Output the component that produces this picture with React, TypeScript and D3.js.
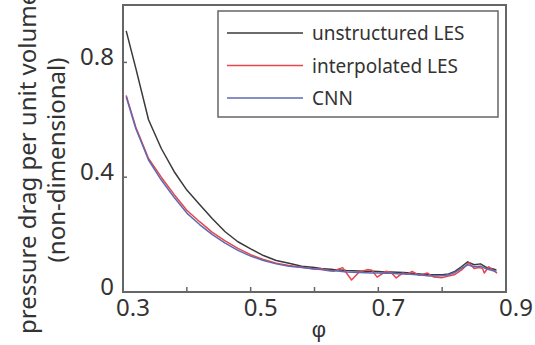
import { useRef, useEffect } from "react";
import * as d3 from "d3";

// phi values shared by the smooth curves
const phi = [
  0.305, 0.32, 0.34, 0.36, 0.38, 0.4, 0.42, 0.44, 0.46, 0.48, 0.5, 0.52, 0.54, 0.56, 0.58, 0.6,
  0.61, 0.62, 0.63, 0.64, 0.65, 0.66, 0.67, 0.68, 0.69, 0.7, 0.71, 0.72, 0.73, 0.74, 0.75,
  0.76, 0.77, 0.78, 0.79, 0.8, 0.81, 0.82, 0.83, 0.84, 0.85, 0.86, 0.87, 0.88, 0.885,
];

const unstructured = [
  0.91, 0.78, 0.6, 0.5, 0.42, 0.355, 0.305, 0.255, 0.21, 0.175, 0.15, 0.127, 0.11, 0.1, 0.09, 0.085,
  0.082, 0.08, 0.078, 0.077, 0.075, 0.074, 0.073, 0.072, 0.072, 0.071, 0.07, 0.07, 0.069, 0.068, 0.066,
  0.064, 0.062, 0.06, 0.06, 0.06, 0.063, 0.072, 0.088, 0.105, 0.095, 0.098, 0.085, 0.08, 0.077,
];

const cnn = [
  0.68, 0.57, 0.46, 0.39, 0.33, 0.275, 0.235, 0.2, 0.17, 0.145, 0.125, 0.11, 0.098, 0.09, 0.085, 0.08,
  0.078, 0.075, 0.074, 0.072, 0.07, 0.069, 0.068, 0.067, 0.066, 0.066, 0.065, 0.065, 0.064, 0.063, 0.062,
  0.06, 0.058, 0.056, 0.056, 0.057, 0.06, 0.068, 0.082, 0.095, 0.088, 0.09, 0.08, 0.074, 0.072,
];

// interpolated LES is noisier, so it has its own phi samples
const phiInterp = [
  0.305, 0.32, 0.34, 0.36, 0.38, 0.4, 0.42, 0.44, 0.46, 0.48, 0.5, 0.52, 0.54, 0.56, 0.58, 0.6,
  0.61, 0.62, 0.63, 0.635, 0.644, 0.658, 0.67, 0.683, 0.69, 0.698, 0.712, 0.72, 0.728, 0.738, 0.745,
  0.753, 0.764, 0.777, 0.787, 0.8, 0.81, 0.819, 0.831, 0.842, 0.85, 0.857, 0.863, 0.866, 0.873, 0.88, 0.886,
];

const interpolated = [
  0.685, 0.575, 0.465, 0.4, 0.34, 0.285, 0.245, 0.208, 0.178, 0.152, 0.13, 0.113, 0.1, 0.092, 0.086, 0.08,
  0.082, 0.076, 0.072, 0.078, 0.085, 0.042, 0.07, 0.078, 0.076, 0.052, 0.072, 0.068, 0.049, 0.066, 0.062,
  0.072, 0.058, 0.066, 0.052, 0.05, 0.056, 0.06, 0.078, 0.102, 0.082, 0.085, 0.083, 0.066, 0.088, 0.075, 0.066,
];

const xTicks = [0.3, 0.5, 0.7, 0.9];
const xMinorTicks = [0.4, 0.5, 0.6, 0.7, 0.8];
const yTicks = [0, 0.4, 0.8];

const series = [
  { name: "unstructured LES", x: phi, y: unstructured, color: "#3a3a3a" },
  { name: "interpolated LES", x: phiInterp, y: interpolated, color: "#e5474d" },
  { name: "CNN", x: phi, y: cnn, color: "#6068b4" },
];

const W = 535;
const H = 345;
const font = "'Noto Sans', sans-serif";
const textColor = "#333";

export default function App() {
  const svgRef = useRef<SVGSVGElement>(null);

  useEffect(() => {
    const margin = { top: 5, right: 29, bottom: 53, left: 123 };
    const innerWidth = W - margin.left - margin.right;
    const innerHeight = H - margin.top - margin.bottom;

    const svg = d3.select(svgRef.current);
    svg.selectAll("*").remove();

    const x = d3.scaleLinear().domain([0.3, 0.9]).range([0, innerWidth]);
    const y = d3.scaleLinear().domain([0, 1]).range([innerHeight, 0]);

    const g = svg.append("g").attr("transform", `translate(${margin.left},${margin.top})`);

    // curves: black first, then red, blue on top
    series.forEach((s) => {
      const pts = s.x.map((v, k) => [v, s.y[k]] as [number, number]);
      const line = d3
        .line<[number, number]>()
        .x((d) => x(d[0]))
        .y((d) => y(d[1]));
      g.append("path")
        .datum(pts)
        .attr("fill", "none")
        .attr("stroke", s.color)
        .attr("stroke-width", 1.5)
        .attr("stroke-linejoin", "round")
        .attr("d", line);
    });

    // frame
    g.append("rect")
      .attr("x", 0)
      .attr("y", 0)
      .attr("width", innerWidth)
      .attr("height", innerHeight)
      .attr("fill", "none")
      .attr("stroke", "#666")
      .attr("stroke-width", 2);

    // inward ticks
    g.selectAll(".xt")
      .data(xMinorTicks)
      .enter()
      .append("line")
      .attr("x1", (d) => x(d))
      .attr("x2", (d) => x(d))
      .attr("y1", innerHeight)
      .attr("y2", innerHeight - 5)
      .attr("stroke", "#666")
      .attr("stroke-width", 1.5);

    g.selectAll(".yt")
      .data(yTicks.filter((d) => d > 0))
      .enter()
      .append("line")
      .attr("x1", 0)
      .attr("x2", 4)
      .attr("y1", (d) => y(d))
      .attr("y2", (d) => y(d))
      .attr("stroke", "#666")
      .attr("stroke-width", 1.5);

    // tick labels
    g.selectAll(".xl")
      .data(xTicks)
      .enter()
      .append("text")
      .attr("x", (d) => x(d) + 10)
      .attr("y", innerHeight + 24)
      .attr("text-anchor", "middle")
      .attr("font-family", font)
      .attr("font-size", 24)
      .attr("fill", textColor)
      .text((d) => d3.format(".1f")(d));

    g.selectAll(".yl")
      .data(yTicks)
      .enter()
      .append("text")
      .attr("x", -9)
      .attr("y", (d) => y(d) + 3)
      .attr("text-anchor", "end")
      .attr("font-family", font)
      .attr("font-size", 24)
      .attr("fill", textColor)
      .text((d) => (d === 0 ? "0" : d3.format(".1f")(d)));

    // axis titles
    svg.append("text")
      .attr("x", 319)
      .attr("y", 337)
      .attr("text-anchor", "middle")
      .attr("font-family", "'Liberation Sans', 'DejaVu Sans', sans-serif")
      .attr("font-size", 22)
      .attr("fill", textColor)
      .text("φ");

    svg.append("text")
      .attr("transform", "translate(36,334) rotate(-90)")
      .attr("text-anchor", "start")
      .attr("font-family", font)
      .attr("font-size", 24)
      .attr("fill", textColor)
      .text("pressure drag per unit volume");

    svg.append("text")
      .attr("transform", "translate(65,160) rotate(-90)")
      .attr("text-anchor", "middle")
      .attr("font-family", font)
      .attr("font-size", 24)
      .attr("fill", textColor)
      .text("(non-dimensional)");

    // legend
    const legend = svg.append("g").attr("transform", "translate(218,11)");
    legend
      .append("rect")
      .attr("width", 280)
      .attr("height", 106)
      .attr("fill", "white")
      .attr("stroke", "#666")
      .attr("stroke-width", 1.5);

    series.forEach((s, i) => {
      const cy = 22 + i * 32.5;
      legend
        .append("line")
        .attr("x1", 9)
        .attr("x2", 85)
        .attr("y1", cy)
        .attr("y2", cy)
        .attr("stroke", s.color)
        .attr("stroke-width", 1.5);
      legend
        .append("text")
        .attr("x", 94)
        .attr("y", cy + 7)
        .attr("font-family", font)
        .attr("font-size", 19)
        .attr("fill", textColor)
        .text(s.name);
    });
  }, []);

  return (
    <svg
      ref={svgRef}
      width={W}
      height={H}
      style={{ position: "absolute", left: 0, top: 0, background: "white" }}
    ></svg>
  );
}
